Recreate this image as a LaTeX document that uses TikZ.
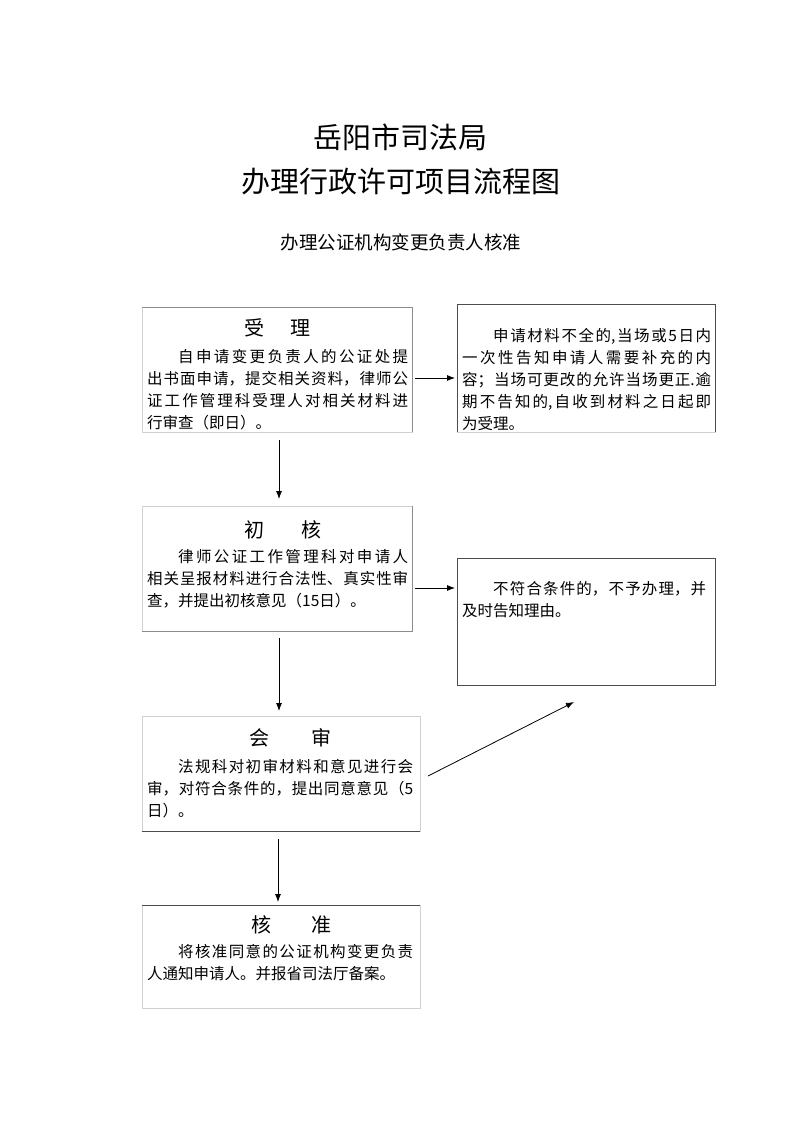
\documentclass[tikz,border=0pt]{standalone}
\usepackage{fontspec}
\setmainfont{Noto Sans CJK SC}
\usetikzlibrary{arrows.meta}
\XeTeXlinebreaklocale "zh"
\XeTeXlinebreakskip=0pt plus 4pt
\tikzset{
  title/.style={inner sep=0pt, font=\fontsize{29}{34}\selectfont},
  subtitle/.style={inner sep=0pt, font=\fontsize{18.5}{22}\selectfont},
  head/.style={inner sep=0pt, font=\fontsize{20}{24}\selectfont},
  body/.style={inner sep=0pt, anchor=north west, align=justify,
    font=\fontsize{15.5}{21.8}\selectfont},
  frame/.style={draw=black!18, line width=0.6pt},
  darkedge/.style={draw=black!70, line width=0.8pt},
  midedge/.style={draw=black!45, line width=0.7pt},
  arr/.style={-{Latex[length=8pt,width=6pt]}, line width=0.8pt}
}
\begin{document}
\begin{tikzpicture}[x=1pt,y=-1pt]
\useasboundingbox (0,0) rectangle (800,1131);
\fill[white] (0,0) rectangle (800,1131);

% titles
\node[title] (t1) at (400,137) {岳阳市司法局};
\node[title] (t2) at (401,182) {办理行政许可项目流程图};
\node[subtitle] (t3) at (401,242) {办理公证机构变更负责人核准};

% box 1
\coordinate (b1nw) at (142,307); \coordinate (b1se) at (412,432);
\draw[frame] (b1nw) rectangle (b1se);
\draw[midedge] (b1nw) -- (412,307) -- (b1se);
\node[head] (h1) at (277,328) {受\hspace{26pt}理};
\node[body, text width=261pt] (x1) at (147,349.5) {\hspace*{31pt}自申请变更负责人的公证处提\linebreak 出书面申请，提交相关资料，律师公\linebreak 证工作管理科受理人对相关材料进\linebreak 行审查（即日）。};

% right box 1
\coordinate (r1nw) at (457,304); \coordinate (r1se) at (715,432);
\draw[frame] (r1nw) rectangle (r1se);
\draw[darkedge] (r1nw |- r1se) -- (r1nw) -- (r1se |- r1nw) -- (r1se);
\node[body, text width=249pt] (y1) at (462,328.5) {\hspace*{31pt}申请材料不全的,当场或5日内\linebreak 一次性告知申请人需要补充的内\linebreak 容；当场可更改的允许当场更正.逾\linebreak 期不告知的,自收到材料之日起即\linebreak 为受理。};

% box 2
\coordinate (b2nw) at (142,506); \coordinate (b2se) at (412,631);
\draw[frame] (b2nw) rectangle (b2se);
\draw[midedge] (412,506) -- (b2se) -- (142,631);
\node[head] (h2) at (283,530) {初\hspace{37pt}核};
\node[body, text width=261pt] (x2) at (147,549.5) {\hspace*{31pt}律师公证工作管理科对申请人\linebreak 相关呈报材料进行合法性、真实性审\linebreak 查，并提出初核意见（15日）。};

% right box 2
\coordinate (r2nw) at (457,558); \coordinate (r2se) at (715,685);
\draw[darkedge] (r2nw) rectangle (r2se);
\node[body, text width=244pt] (y2) at (462,581.5) {\hspace*{31pt}不符合条件的，不予办理，并\linebreak 及时告知理由。};

% box 3
\coordinate (b3nw) at (142,716); \coordinate (b3se) at (420,831);
\draw[frame] (b3nw) rectangle (b3se);
\draw[darkedge] (142,831) -- (b3se);
\node[head] (h3) at (290,738) {会\hspace{42pt}审};
\node[body, text width=266pt] (x3) at (147,759.5) {\hspace*{31pt}法规科对初审材料和意见进行会\linebreak 审，对符合条件的，提出同意意见（5\linebreak 日）。};

% box 4
\coordinate (b4nw) at (142,905); \coordinate (b4se) at (420,1008);
\draw[frame] (b4nw) rectangle (b4se);
\draw[darkedge] (b4nw) -- (420,905);
\node[head] (h4) at (291,925) {核\hspace{40pt}准};
\node[body, text width=266pt] (x4) at (147,944.5) {\hspace*{31pt}将核准同意的公证机构变更负责\linebreak 人通知申请人。并报省司法厅备案。};

% connectors
\coordinate (a1s) at (415,378); \coordinate (a1e) at (455,378);
\draw[arr] (a1s) -- (a1e);
\coordinate (d1s) at (279,440); \coordinate (d1e) at (279,499);
\draw[arr] (d1s) -- (d1e);
\coordinate (a2s) at (415,588); \coordinate (a2e) at (455,588);
\draw[arr] (a2s) -- (a2e);
\coordinate (d2s) at (279,638); \coordinate (d2e) at (279,711);
\draw[arr] (d2s) -- (d2e);
\coordinate (g1s) at (428,776); \coordinate (g1e) at (574,702);
\draw[arr] (g1s) -- (g1e);
\coordinate (d3s) at (278,839); \coordinate (d3e) at (278,902);
\draw[arr] (d3s) -- (d3e);
\end{tikzpicture}
\end{document}
